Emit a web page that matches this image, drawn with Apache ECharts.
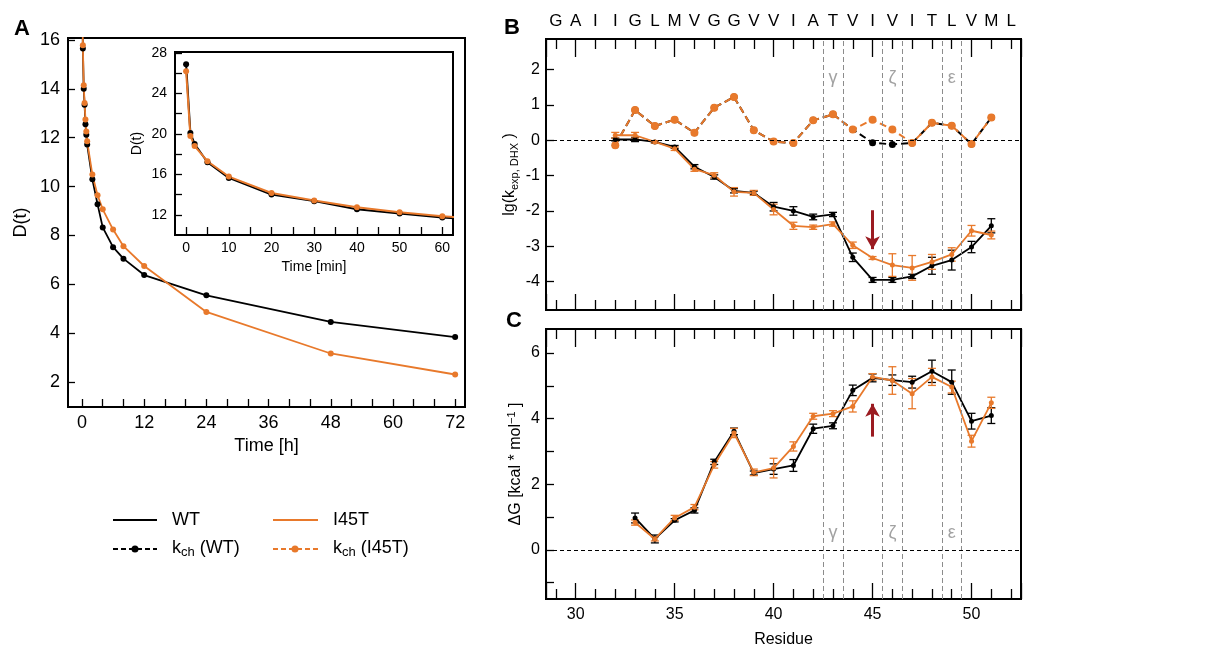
<!DOCTYPE html>
<html>
<head>
<meta charset="utf-8">
<script src="https://cdn.jsdelivr.net/npm/echarts@6/dist/echarts.min.js"></script>
<style>html,body{margin:0;padding:0;background:#fff}#chart{width:1208px;height:653px}</style>
</head>
<body>
<div id="chart"></div>
<script>
// ---- panel A: D(t) vs time, the same points feed the main plot (hours) and the inset (minutes)
var timeMin = [0, 1, 2, 5, 10, 20, 30, 40, 50, 60, 120, 180, 240, 360, 480, 720, 1440, 2880, 4320];
var dWT   = [26.9, 20.1, 19.0, 17.2, 15.65, 14.0, 13.35, 12.55, 12.12, 11.72, 10.3, 9.28, 8.33, 7.52, 7.05, 6.38, 5.55, 4.46, 3.84];
var dI45T = [26.2, 19.8, 18.8, 17.3, 15.78, 14.15, 13.42, 12.75, 12.25, 11.85, 10.49, 9.65, 9.07, 8.24, 7.56, 6.75, 4.87, 3.17, 2.31];
var hourTicks  = [0, 4, 8, 12, 16, 20, 24, 28, 32, 36, 40, 44, 48, 52, 56, 60, 64, 68, 72];
var hourLabels = [0, 12, 24, 36, 48, 60, 72];
var dTicks     = [2, 4, 6, 8, 10, 12, 14, 16];
var minTicks   = [0, 5, 10, 15, 20, 25, 30, 35, 40, 45, 50, 55, 60];
var minLabels  = [0, 10, 20, 30, 40, 50, 60];
var insetTicks = [12, 14, 16, 18, 20, 22, 24, 26, 28];
var insetLabels = [12, 16, 20, 24, 28];

// ---- panels B and C: per residue
var residues = [29, 30, 31, 32, 33, 34, 35, 36, 37, 38, 39, 40, 41, 42, 43, 44, 45, 46, 47, 48, 49, 50, 51, 52];
var seqLetters = ['G', 'A', 'I', 'I', 'G', 'L', 'M', 'V', 'G', 'G', 'V', 'V', 'I', 'A', 'T', 'V', 'I', 'V', 'I', 'T', 'L', 'V', 'M', 'L'];
var residueLabels = [30, 35, 40, 45, 50];

var lgRes     = [32, 33, 34, 35, 36, 37, 38, 39, 40, 41, 42, 43, 44, 45, 46, 47, 48, 49, 50, 51];
var lgWT      = [0.02, 0.02, -0.05, -0.19, -0.75, -1.04, -1.43, -1.49, -1.88, -2.0, -2.17, -2.1, -3.31, -3.95, -3.95, -3.85, -3.55, -3.39, -3.02, -2.42];
var lgWTErr   = [0.04, 0.06, 0.03, 0.04, 0.06, 0.06, 0.06, 0.05, 0.12, 0.12, 0.08, 0.06, 0.12, 0.07, 0.07, 0.06, 0.24, 0.28, 0.16, 0.2];
var lgI45T    = [0.14, 0.14, -0.05, -0.24, -0.82, -0.99, -1.46, -1.49, -1.96, -2.42, -2.46, -2.37, -2.97, -3.33, -3.53, -3.61, -3.44, -3.23, -2.56, -2.68];
var lgI45TErr = [0.08, 0.08, 0.03, 0.05, 0.06, 0.07, 0.12, 0.07, 0.15, 0.1, 0.06, 0.06, 0.09, 0.04, 0.32, 0.35, 0.21, 0.19, 0.15, 0.11];
var kchWT     = [-0.14, 0.85, 0.40, 0.58, 0.21, 0.92, 1.22, 0.28, -0.04, -0.08, 0.56, 0.73, 0.30, -0.07, -0.12, -0.08, 0.49, 0.41, -0.11, 0.64];
var kchI45T   = [-0.14, 0.85, 0.40, 0.58, 0.21, 0.92, 1.22, 0.28, -0.04, -0.08, 0.56, 0.73, 0.30, 0.58, 0.30, -0.08, 0.49, 0.41, -0.11, 0.64];
var lgTicks   = [-4, -3, -2, -1, 0, 1, 2];

var dgRes     = [33, 34, 35, 36, 37, 38, 39, 40, 41, 42, 43, 44, 45, 46, 47, 48, 49, 50, 51];
var dgWT      = [0.97, 0.33, 0.90, 1.20, 2.68, 3.61, 2.34, 2.46, 2.57, 3.69, 3.78, 4.86, 5.24, 5.17, 5.11, 5.44, 5.11, 3.92, 4.09];
var dgWTErr   = [0.15, 0.12, 0.05, 0.08, 0.08, 0.1, 0.06, 0.16, 0.18, 0.14, 0.09, 0.16, 0.12, 0.16, 0.18, 0.34, 0.37, 0.24, 0.24];
var dgI45T    = [0.83, 0.33, 0.97, 1.30, 2.59, 3.56, 2.36, 2.49, 3.15, 4.07, 4.15, 4.37, 5.27, 5.16, 4.76, 5.27, 4.96, 3.31, 4.48];
var dgI45TErr = [0.08, 0.06, 0.08, 0.08, 0.1, 0.14, 0.1, 0.3, 0.14, 0.09, 0.09, 0.17, 0.1, 0.42, 0.46, 0.26, 0.18, 0.18, 0.17];
var dgTicks   = [-1, 0, 1, 2, 3, 4, 5, 6];
var dgLabels  = [0, 2, 4, 6];

var bandEdges = [42.5, 43.5, 45.5, 46.5, 48.5, 49.5];
var greekRes = [43, 46, 49];
var greekLabels = ['γ', 'ζ', 'ε'];
var mutRes = 45;

var FONT = 'Liberation Sans';
var ORANGE = '#e8792b';
var DARKRED = '#9b1b21';

function pts(xs, ys) { return xs.map(function (x, i) { return [x, ys[i]]; }); }

// error bars drawn through the axis scale
function errBars(color, gi, xs, ys, es) {
  return {
    type: 'custom', xAxisIndex: gi.x, yAxisIndex: gi.y, z: 3, silent: true,
    dimensions: ['x', 'y', 'e'], encode: { x: 0, y: 1 },
    data: xs.map(function (x, i) { return [x, ys[i], es[i]]; }),
    renderItem: function (params, api) {
      var x = api.value(0), y = api.value(1), e = api.value(2);
      var hi = api.coord([x, y + e]), lo = api.coord([x, y - e]);
      var w = 4, st = { stroke: color, lineWidth: 1.3 };
      return { type: 'group', children: [
        { type: 'line', shape: { x1: hi[0], y1: hi[1], x2: lo[0], y2: lo[1] }, style: st },
        { type: 'line', shape: { x1: hi[0] - w, y1: hi[1], x2: hi[0] + w, y2: hi[1] }, style: st },
        { type: 'line', shape: { x1: lo[0] - w, y1: lo[1], x2: lo[0] + w, y2: lo[1] }, style: st }
      ] };
    }
  };
}

function solid(name, color, xi, yi, data, w, s) {
  return { name: name, type: 'line', xAxisIndex: xi, yAxisIndex: yi, data: data, z: 4,
    symbol: 'circle', symbolSize: s, showSymbol: true,
    lineStyle: { color: color, width: w }, itemStyle: { color: color } };
}

function guideLines() {
  return {
    silent: true, symbol: 'none', label: { show: false },
    lineStyle: { color: '#8c8c8c', type: [5, 3], width: 1 },
    data: bandEdges.map(function (v) { return { xAxis: v }; })
      .concat([{ yAxis: 0, lineStyle: { color: '#000', type: [4, 3], width: 1 } }])
  };
}

function greek(xi, yi, yPos) {
  return { type: 'scatter', xAxisIndex: xi, yAxisIndex: yi, symbolSize: 0, silent: true,
    data: greekRes.map(function (r, i) { return { value: [r, yPos], name: greekLabels[i] }; }),
    label: { show: true, position: 'inside', formatter: '{b}', color: '#8a8a8a', fontSize: 18, fontFamily: FONT } };
}

function arrow(xi, yi, y0, y1) {
  return { type: 'line', xAxisIndex: xi, yAxisIndex: yi, data: [], silent: true,
    markLine: { silent: true, symbol: ['none', 'arrow'], symbolSize: [11, 13], label: { show: false },
      lineStyle: { color: DARKRED, width: 3, type: 'solid' },
      data: [[{ coord: [mutRes, y0] }, { coord: [mutRes, y1] }]] } };
}

var tickStyle = { color: '#000', width: 1.3 };
var lbl = { color: '#000', fontFamily: FONT };
var noLine = { show: false, onZero: false };

function xRes(grid, pos, labels, name) {
  var a = {
    type: 'value', gridIndex: grid, position: pos, min: 28.5, max: 52.5, splitNumber: 5,
    axisLine: noLine, splitLine: { show: false },
    axisTick: { show: true, inside: true, length: pos === 'top' ? 18 : 16, lineStyle: tickStyle },
    minorTick: { show: true, splitNumber: 5, length: 10, lineStyle: tickStyle },
    axisLabel: { show: false }
  };
  if (labels === 'letters') {
    a.axisLabel = Object.assign({ show: true, fontSize: 17, margin: 9, customValues: residues,
      formatter: function (v) { return seqLetters[residues.indexOf(v)]; } }, lbl);
  } else if (labels) {
    a.axisLabel = Object.assign({ show: true, fontSize: 16, margin: 8, customValues: labels }, lbl);
  }
  if (name) {
    a.name = name; a.nameLocation = 'middle'; a.nameGap = 33;
    a.nameTextStyle = { fontSize: 16, fontFamily: FONT, color: '#000' };
  }
  return a;
}

var subRich = {
  n: { fontSize: 16, fontFamily: FONT, color: '#000', lineHeight: 18, verticalAlign: 'top' },
  s: { fontSize: 11, fontFamily: FONT, color: '#000', lineHeight: 12, padding: [10, 0, 0, 0], verticalAlign: 'bottom' }
};
var supRich = {
  n: { fontSize: 16, fontFamily: FONT, color: '#000', lineHeight: 18, verticalAlign: 'bottom' },
  p: { fontSize: 11, fontFamily: FONT, color: '#000', lineHeight: 12, padding: [0, 0, 9, 0], verticalAlign: 'top' }
};

var option = {
  animation: false,
  backgroundColor: '#fff',
  grid: [
    { left: 68, top: 38, width: 397, height: 369, show: true, borderColor: '#000', borderWidth: 2 },
    { left: 175, top: 52, width: 278, height: 183, show: true, borderColor: '#000', borderWidth: 2, backgroundColor: '#fff' },
    { left: 546, top: 39, width: 475, height: 271, show: true, borderColor: '#000', borderWidth: 2 },
    { left: 546, top: 329, width: 475, height: 270, show: true, borderColor: '#000', borderWidth: 2 }
  ],
  xAxis: [
    { type: 'value', gridIndex: 0, min: -2.7, max: 73.9, axisLine: noLine, splitLine: { show: false },
      axisTick: { inside: true, length: 8, customValues: hourTicks, lineStyle: tickStyle },
      axisLabel: Object.assign({ fontSize: 18, margin: 7, customValues: hourLabels }, lbl),
      name: 'Time [h]', nameLocation: 'middle', nameGap: 30, nameTextStyle: { fontSize: 18, fontFamily: FONT, color: '#000' } },
    { type: 'value', gridIndex: 1, min: -2.6, max: 62.5, axisLine: noLine, splitLine: { show: false },
      axisTick: { inside: true, length: 8, customValues: minTicks, lineStyle: tickStyle },
      axisLabel: Object.assign({ fontSize: 14, margin: 6, customValues: minLabels }, lbl),
      name: 'Time [min]', nameLocation: 'middle', nameGap: 25, nameTextStyle: { fontSize: 14, fontFamily: FONT, color: '#000' } },
    xRes(2, 'bottom', null),
    xRes(2, 'top', 'letters'),
    xRes(3, 'bottom', residueLabels, 'Residue'),
    xRes(3, 'top', null)
  ],
  yAxis: [
    { type: 'value', gridIndex: 0, min: 0.98, max: 16.08, axisLine: noLine, splitLine: { show: false },
      axisTick: { inside: true, length: 7, customValues: dTicks, lineStyle: tickStyle },
      axisLabel: Object.assign({ fontSize: 18, margin: 8, customValues: dTicks }, lbl),
      name: 'D(t)', nameLocation: 'middle', nameGap: 38, nameTextStyle: { fontSize: 18, fontFamily: FONT, color: '#000' } },
    { type: 'value', gridIndex: 1, min: 10, max: 28.1, axisLine: noLine, splitLine: { show: false },
      axisTick: { inside: true, length: 7, customValues: insetTicks, lineStyle: tickStyle },
      axisLabel: Object.assign({ fontSize: 14, margin: 8, customValues: insetLabels }, lbl),
      name: 'D(t)', nameLocation: 'middle', nameGap: 31, nameTextStyle: { fontSize: 14, fontFamily: FONT, color: '#000' } },
    { type: 'value', gridIndex: 2, min: -4.8, max: 2.86, axisLine: noLine, splitLine: { show: false },
      axisTick: { inside: true, length: 8, customValues: lgTicks, lineStyle: tickStyle },
      axisLabel: Object.assign({ fontSize: 16, margin: 6, customValues: lgTicks }, lbl),
      name: '{n|lg(k}{s|exp, DHX}{n| )}', nameLocation: 'middle', nameGap: 26,
      nameTextStyle: { rich: subRich } },
    { type: 'value', gridIndex: 3, min: -1.5, max: 6.73, axisLine: noLine, splitLine: { show: false },
      axisTick: { inside: true, length: 8, customValues: dgTicks, lineStyle: tickStyle },
      axisLabel: Object.assign({ fontSize: 16, margin: 6, customValues: dgLabels }, lbl),
      name: '{n|ΔG [kcal * mol}{p|−1}{n| ]}', nameLocation: 'middle', nameGap: 22,
      nameTextStyle: { rich: supRich } }
  ],
  series: [
    // A main
    solid('WT', '#000', 0, 0, pts(timeMin.map(function (t) { return t / 60; }), dWT), 1.8, 6),
    solid('I45T', ORANGE, 0, 0, pts(timeMin.map(function (t) { return t / 60; }), dI45T), 1.8, 6),
    // A inset
    solid('WT', '#000', 1, 1, pts(timeMin, dWT), 2, 6),
    solid('I45T', ORANGE, 1, 1, pts(timeMin, dI45T), 2, 6),
    // B
    { name: 'kch WT', type: 'line', xAxisIndex: 2, yAxisIndex: 2, data: pts(lgRes, kchWT), z: 3,
      symbol: 'circle', symbolSize: 7, lineStyle: { color: '#000', width: 2, type: [7, 4] }, itemStyle: { color: '#000' },
      markLine: guideLines() },
    { name: 'kch I45T', type: 'line', xAxisIndex: 2, yAxisIndex: 2, data: pts(lgRes, kchI45T), z: 3,
      symbol: 'circle', symbolSize: 8, lineStyle: { color: ORANGE, width: 2, type: [7, 4] }, itemStyle: { color: ORANGE } },
    errBars('#000', { x: 2, y: 2 }, lgRes, lgWT, lgWTErr),
    solid('WT', '#000', 2, 2, pts(lgRes, lgWT), 1.8, 5),
    errBars(ORANGE, { x: 2, y: 2 }, lgRes, lgI45T, lgI45TErr),
    solid('I45T', ORANGE, 2, 2, pts(lgRes, lgI45T), 1.8, 5),
    greek(2, 2, 1.75),
    arrow(2, 2, -1.98, -3.08),
    // C
    errBars('#000', { x: 4, y: 3 }, dgRes, dgWT, dgWTErr),
    Object.assign(solid('WT', '#000', 4, 3, pts(dgRes, dgWT), 1.8, 5), { markLine: guideLines() }),
    errBars(ORANGE, { x: 4, y: 3 }, dgRes, dgI45T, dgI45TErr),
    solid('I45T', ORANGE, 4, 3, pts(dgRes, dgI45T), 1.8, 5),
    greek(4, 3, 0.52),
    arrow(4, 3, 3.45, 4.45)
  ],
  graphic: [
    { type: 'text', left: 14, top: 18, style: { text: 'A', font: 'bold 22px ' + FONT, fill: '#000' } },
    { type: 'text', left: 504, top: 17, style: { text: 'B', font: 'bold 22px ' + FONT, fill: '#000' } },
    { type: 'text', left: 506, top: 310, style: { text: 'C', font: 'bold 22px ' + FONT, fill: '#000' } },
    // legend
    { type: 'line', shape: { x1: 113, y1: 520, x2: 157, y2: 520 }, style: { stroke: '#000', lineWidth: 2 } },
    { type: 'text', x: 172, y: 520, style: { text: 'WT', font: '18px ' + FONT, fill: '#000', verticalAlign: 'middle' } },
    { type: 'line', shape: { x1: 273, y1: 520, x2: 318, y2: 520 }, style: { stroke: ORANGE, lineWidth: 2 } },
    { type: 'text', x: 333, y: 520, style: { text: 'I45T', font: '18px ' + FONT, fill: '#000', verticalAlign: 'middle' } },
    { type: 'line', shape: { x1: 113, y1: 549, x2: 157, y2: 549 }, style: { stroke: '#000', lineWidth: 2, lineDash: [5, 3] } },
    { type: 'circle', shape: { cx: 135, cy: 549, r: 3.5 }, style: { fill: '#000' } },
    { type: 'text', x: 172, y: 549, style: { text: '{n|k}{s|ch}{n| (WT)}', verticalAlign: 'middle',
      rich: { n: { fontSize: 18, fontFamily: FONT, fill: '#000', lineHeight: 20, verticalAlign: 'top' },
              s: { fontSize: 13, fontFamily: FONT, fill: '#000', lineHeight: 14, padding: [11, 0, 0, 0], verticalAlign: 'bottom' } } } },
    { type: 'line', shape: { x1: 273, y1: 549, x2: 318, y2: 549 }, style: { stroke: ORANGE, lineWidth: 2, lineDash: [5, 3] } },
    { type: 'circle', shape: { cx: 295, cy: 549, r: 3.5 }, style: { fill: ORANGE } },
    { type: 'text', x: 333, y: 549, style: { text: '{n|k}{s|ch}{n| (I45T)}', verticalAlign: 'middle',
      rich: { n: { fontSize: 18, fontFamily: FONT, fill: '#000', lineHeight: 20, verticalAlign: 'top' },
              s: { fontSize: 13, fontFamily: FONT, fill: '#000', lineHeight: 14, padding: [11, 0, 0, 0], verticalAlign: 'bottom' } } } }
  ]
};

var chart = echarts.init(document.getElementById('chart'));
chart.setOption(option);
</script>
</body>
</html>
